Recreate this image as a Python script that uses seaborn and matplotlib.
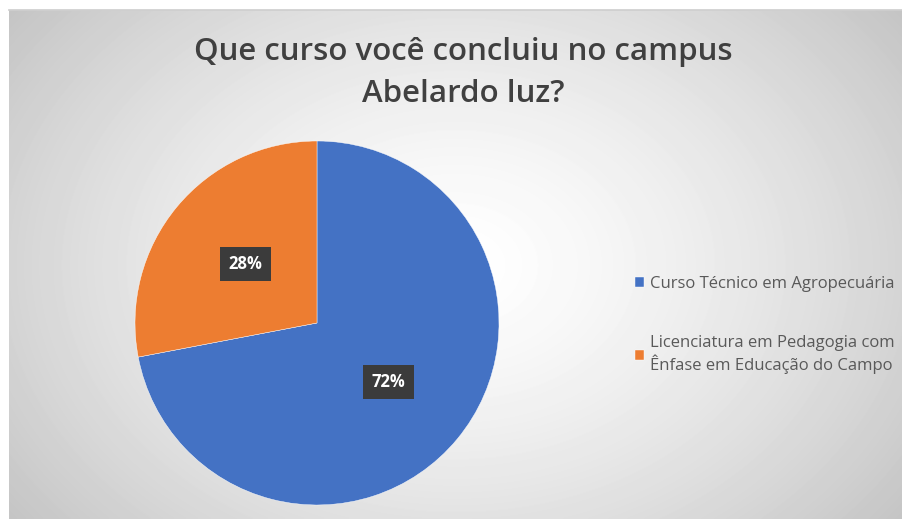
import matplotlib
matplotlib.use("Agg")

import numpy as np
import matplotlib.pyplot as plt
import seaborn as sns

# data
categories = ["Curso Técnico em Agropecuária",
              "Licenciatura em Pedagogia com\nÊnfase em Educação do Campo"]
shares = [72, 28]
colors = ["#4472C4", "#ED7D31"]
title = "Que curso você concluiu no campus\nAbelardo luz?"

sns.set_theme(style="white")
plt.rcParams["font.family"] = ["Open Sans", "DejaVu Sans"]

W, H = 903, 519
fig = plt.figure(figsize=(W / 100, H / 100), dpi=100)
fig.patch.set_facecolor("white")

# chart area with a radial grey gradient (Excel style)
bg = fig.add_axes([9 / W, 0, 1 - 9 / W, 1 - 10 / H])
yy, xx = np.mgrid[0:509, 0:894]
cx, cy = 447, 255
d = np.sqrt(((xx - cx) / 560) ** 2 + ((yy - cy) / 420) ** 2)
shade = 1.0 - 0.23 * np.clip(d, 0, 1) ** 1.4
bg.imshow(shade, cmap="gray", vmin=0, vmax=1, aspect="auto",
          extent=[0, 1, 0, 1], interpolation="bilinear")
bg.set_xticks([])
bg.set_yticks([])
for s in bg.spines.values():
    s.set_visible(False)
bg.spines["top"].set_visible(True)
bg.spines["top"].set_color("#cfcfcf")

# pie
r = 182
cxp, cyp = 317, 323
ax = fig.add_axes([(cxp - r) / W, (H - cyp - r) / H, 2 * r / W, 2 * r / H])
ax.set_facecolor("none")
wedges, texts, autotexts = ax.pie(
    shares, colors=colors, startangle=90, counterclock=False,
    autopct="%1.0f%%", pctdistance=0.51,
    wedgeprops=dict(linewidth=0.3, edgecolor="white"),
    textprops=dict(color="white", fontsize=12, fontweight="bold"))
for t in autotexts:
    t.set_bbox(dict(boxstyle="square,pad=0.5", fc="#3b3b3b", ec="none"))
ax.set_xlim(-1, 1)
ax.set_ylim(-1, 1)
ax.set_aspect("equal")

fig.text(463 / W, 1 - 73 / H, title, ha="center", va="center",
         fontsize=22.5, fontweight="semibold", color="#404040",
         linespacing=1.5)

fig.legend(wedges, categories, loc="center left",
           bbox_to_anchor=(620 / W, 1 - 325 / H), frameon=False,
           fontsize=12, labelcolor="#595959", handlelength=0.55,
           handleheight=0.55, handletextpad=0.35, labelspacing=2.6)

fig.savefig("out.png", dpi=100)
